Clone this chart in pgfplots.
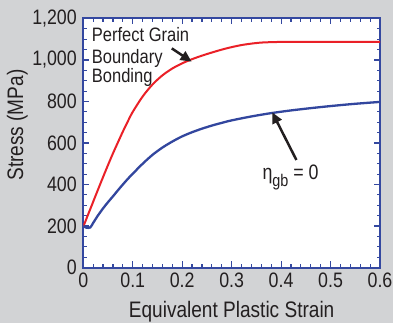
\documentclass[border=0pt]{standalone}
\usepackage{pgfplots}
\pgfplotsset{compat=1.18}
\usepackage{fontspec}
\setmainfont{Liberation Sans}[FakeStretch=0.85]
\usetikzlibrary{arrows.meta}
\definecolor{bggray}{RGB}{210,211,213}
\definecolor{axblue}{RGB}{52,72,160}
\definecolor{curvered}{RGB}{234,32,39}
\definecolor{curveblue}{RGB}{50,70,158}
\definecolor{ink}{RGB}{35,31,32}

\begin{document}
\begin{tikzpicture}
\fill[bggray] (-83.3bp,-55.5bp) rectangle (309.7bp,267.5bp);
\useasboundingbox (-83.3bp,-55.5bp) rectangle (309.7bp,267.5bp);
\begin{axis}[
  at={(0,0)}, anchor=south west,
  scale only axis, width=296.7bp, height=249bp,
  xmin=0, xmax=0.6, ymin=0, ymax=1200,
  xtick={0,0.1,0.2,0.3,0.4,0.5,0.6},
  xticklabels={0,0.1,0.2,0.3,0.4,0.5,0.6},
  ytick={0,200,400,600,800,1000,1200},
  yticklabels={0,200,400,600,800,{1,000},{1,200}},
  minor x tick num=4, minor y tick num=3,
  tick align=inside,
  major tick length=6bp, minor tick length=3.5bp,
  every tick/.style={axblue, line width=1.2bp},
  axis line style={axblue, line width=2bp},
  axis background/.style={fill=white},
  tick label style={font=\fontsize{21}{21}\selectfont, text=ink},
  yticklabel style={xshift=-3bp},
  xticklabel style={yshift=-2bp},
  xlabel={Equivalent Plastic Strain},
  ylabel={Stress (MPa)},
  label style={font=\fontsize{22.5}{22.5}\selectfont, text=ink},
  xlabel style={at={(axis description cs:0.5,-0.2)}, anchor=base},
  ylabel style={at={(axis description cs:-0.2225,0.572)}, anchor=center},
]

% perfect grain boundary bonding
\addplot[curvered, line width=2bp, smooth] table {
0.000 197
0.010 257
0.020 317
0.030 377
0.040 436
0.050 494
0.060 550
0.070 603
0.080 655
0.090 704
0.100 750
0.120 824
0.140 882
0.160 926
0.180 959
0.200 984
0.220 1004
0.240 1021
0.260 1036
0.280 1050
0.300 1062
0.320 1072
0.340 1079
0.360 1084
0.380 1086
0.400 1087
0.450 1087
0.500 1087
0.550 1087
0.600 1087
};

% eta_gb = 0
\addplot[curveblue, line width=2.3bp, smooth] table {
0.000 200
0.006 192
0.014 193
0.020 215
0.030 252
0.040 285
0.050 315
0.060 343
0.070 372
0.080 400
0.090 427
0.100 452
0.120 500
0.140 543
0.160 578
0.180 607
0.200 632
0.220 652
0.240 669
0.260 684
0.280 697
0.300 709
0.340 728
0.380 744
0.420 757
0.460 768
0.500 778
0.550 789
0.600 798
};

\draw[ink, line width=2.5bp, -{Triangle[length=11bp,width=10bp]}]
  (axis cs:0.179,1056) -- (axis cs:0.219,992);
\draw[ink, line width=2.5bp, -{Triangle[length=11bp,width=10bp]}]
  (axis cs:0.431,518) -- (axis cs:0.382,748);

\node[anchor=base west, inner sep=0, text=ink, font=\fontsize{19.5}{19.5}\selectfont]
  at (axis cs:0.017,1088) {Perfect Grain};
\node[anchor=base west, inner sep=0, text=ink, font=\fontsize{19.5}{19.5}\selectfont]
  at (axis cs:0.017,984) {Boundary};
\node[anchor=base west, inner sep=0, text=ink, font=\fontsize{19.5}{19.5}\selectfont]
  at (axis cs:0.017,890) {Bonding};
\node[anchor=base west, inner sep=0, text=ink, font=\fontsize{21}{21}\selectfont]
  at (axis cs:0.362,422) {η\raisebox{-7bp}{\fontsize{17}{17}\selectfont gb} = 0};
\end{axis}
\end{tikzpicture}
\end{document}
